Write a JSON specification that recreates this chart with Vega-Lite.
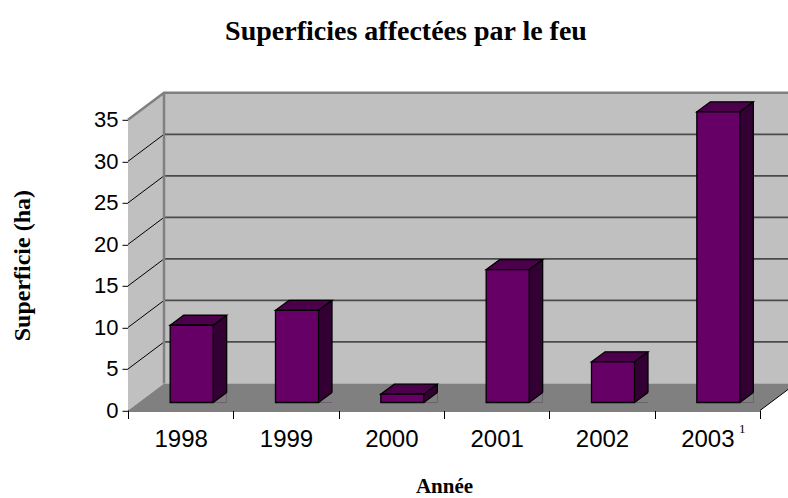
{
  "$schema": "https://vega.github.io/schema/vega-lite/v6.json",
  "width": 632,
  "height": 290.7,
  "autosize": {"type": "none"},
  "padding": {"left": 128, "top": 119.8, "right": 28, "bottom": 87.5},
  "background": "white",
  "title": {
    "text": "Superficies affectées par le feu",
    "font": "Liberation Serif",
    "fontSize": 28,
    "fontWeight": "bold",
    "color": "black",
    "anchor": "middle",
    "frame": "group",
    "baseline": "alphabetic",
    "offset": 20,
    "dx": -38
  },
  "config": {
    "view": {"stroke": null},
    "axisY": {
      "grid": false,
      "labelFont": "Liberation Sans",
      "labelFontSize": 22,
      "labelColor": "black",
      "labelPadding": 4,
      "tickSize": 6,
      "tickColor": "black",
      "domainColor": "black",
      "titleFont": "Liberation Serif",
      "titleFontSize": 24,
      "titleFontWeight": "bold",
      "titleColor": "black",
      "titleX": -106,
      "titleY": 145.35,
      "titleAngle": -90,
      "titleAlign": "center",
      "titleBaseline": "middle",
      "zindex": 1
    },
    "axisX": {
      "grid": false,
      "labelFont": "Liberation Sans",
      "labelFontSize": 24,
      "labelColor": "black",
      "labelAngle": 0,
      "labelPadding": 9,
      "tickSize": 8,
      "tickColor": "black",
      "tickBand": "extent",
      "domainColor": "black",
      "titleFont": "Liberation Serif",
      "titleFontSize": 21,
      "titleFontWeight": "bold",
      "titleColor": "black",
      "titleY": 82,
      "titleBaseline": "alphabetic",
      "zindex": 1
    }
  },
  "datasets": {
    "fires": [
      {"year": "1998", "value": 9.3},
      {"year": "1999", "value": 11.1},
      {"year": "2000", "value": 1.0},
      {"year": "2001", "value": 16.0},
      {"year": "2002", "value": 4.9},
      {"year": "2003", "value": 35.0, "note": "1"}
    ],
    "levels": [
      {"v": 0}, {"v": 5}, {"v": 10}, {"v": 15}, {"v": 20}, {"v": 25}, {"v": 30}, {"v": 35}
    ]
  },
  "data": {"name": "fires"},
  "layer": [
    {
      "transform": [{"filter": "datum.year == '1998'"}],
      "mark": {"type": "point", "shape": "M0,0 L0,-290.7 L36,-317.7 L668,-317.7 L668,-27 L36,-27 Z", "size": 4, "filled": true, "fill": "#C0C0C0", "strokeWidth": 0, "opacity": 1},
      "encoding": {
        "x": {"datum": "1998", "bandPosition": 0, "type": "nominal", "scale": {"type": "band", "domain": ["1998", "1999", "2000", "2001", "2002", "2003"], "paddingInner": 0, "paddingOuter": 0}, "title": "Année"},
        "y": {"datum": 0, "type": "quantitative", "scale": {"domain": [0, 35], "nice": false}, "title": "Superficie (ha)"}
      }
    },
    {
      "transform": [{"filter": "datum.year == '1998'"}],
      "mark": {"type": "point", "shape": "M0,0 L36,-27 L668,-27 L632,0 Z", "size": 4, "filled": true, "fill": "#808080", "strokeWidth": 0, "opacity": 1},
      "encoding": {
        "x": {"datum": "1998", "bandPosition": 0, "type": "nominal", "title": "Année"},
        "y": {"datum": 0, "type": "quantitative", "title": "Superficie (ha)"}
      }
    },
    {
      "transform": [{"filter": "datum.year == '1998'"}],
      "mark": {"type": "point", "shape": "M632,0 L668,-27", "size": 4, "filled": false, "fill": null, "stroke": "black", "strokeWidth": 1, "opacity": 1},
      "encoding": {
        "x": {"datum": "1998", "bandPosition": 0, "type": "nominal", "title": "Année"},
        "y": {"datum": 0, "type": "quantitative", "title": "Superficie (ha)"}
      }
    },
    {
      "data": {"name": "levels"},
      "transform": [{"filter": "datum.v > 0 && datum.v < 35"}],
      "mark": {"type": "point", "shape": "M36,-27 L668,-27", "size": 4, "filled": false, "fill": null, "stroke": "#4a4a4a", "strokeWidth": 1.8, "opacity": 1},
      "encoding": {
        "x": {"datum": "1998", "bandPosition": 0, "type": "nominal", "title": "Année"},
        "y": {"field": "v", "type": "quantitative", "title": "Superficie (ha)"}
      }
    },
    {
      "data": {"name": "levels"},
      "transform": [{"filter": "datum.v > 0 && datum.v < 35"}],
      "mark": {"type": "point", "shape": "M0,0 L36,-27", "size": 4, "filled": false, "fill": null, "stroke": "black", "strokeWidth": 1, "opacity": 1},
      "encoding": {
        "x": {"datum": "1998", "bandPosition": 0, "type": "nominal", "title": "Année"},
        "y": {"field": "v", "type": "quantitative", "title": "Superficie (ha)"}
      }
    },
    {
      "transform": [{"filter": "datum.year == '1998'"}],
      "mark": {"type": "point", "shape": "M0,-290.7 L36,-317.7 L668,-317.7 M36,-317.7 L36,-27", "size": 4, "filled": false, "fill": null, "stroke": "#808080", "strokeWidth": 2.5, "opacity": 1},
      "encoding": {
        "x": {"datum": "1998", "bandPosition": 0, "type": "nominal", "title": "Année"},
        "y": {"datum": 0, "type": "quantitative", "title": "Superficie (ha)"}
      }
    },
    {
      "mark": {"type": "bar", "width": 13.5, "xOffset": 39.25, "yOffset": -18, "y2Offset": -8, "fill": "#330033", "strokeWidth": 0},
      "encoding": {
        "x": {"field": "year", "type": "nominal", "title": "Année"},
        "y": {"field": "value", "type": "quantitative", "title": "Superficie (ha)"},
        "y2": {"datum": 0}
      }
    },
    {
      "mark": {"type": "point", "shape": "M32.5,-8 L46,-8 L46,-18 Z", "size": 4, "filled": true, "fill": "#808080", "strokeWidth": 0, "opacity": 1},
      "encoding": {
        "x": {"field": "year", "type": "nominal", "title": "Année"},
        "y": {"datum": 0, "type": "quantitative", "title": "Superficie (ha)"}
      }
    },
    {
      "mark": {"type": "point", "shape": "M-10.5,-8 L32.5,-8 L46,-18 L3,-18 Z", "size": 4, "filled": true, "fill": "#4C004C", "stroke": "black", "strokeWidth": 1.3, "opacity": 1},
      "encoding": {
        "x": {"field": "year", "type": "nominal", "title": "Année"},
        "y": {"field": "value", "type": "quantitative", "title": "Superficie (ha)"}
      }
    },
    {
      "mark": {"type": "bar", "width": 43, "xOffset": 11, "yOffset": -8, "y2Offset": -8, "fill": "#660066", "stroke": "black", "strokeWidth": 1.3},
      "encoding": {
        "x": {"field": "year", "type": "nominal", "title": "Année"},
        "y": {"field": "value", "type": "quantitative", "title": "Superficie (ha)", "axis": {"values": [0, 5, 10, 15, 20, 25, 30, 35]}},
        "y2": {"datum": 0}
      }
    },
    {
      "mark": {"type": "point", "shape": "M32.5,-8 L46,-18", "size": 4, "filled": false, "fill": null, "stroke": "black", "strokeWidth": 1.3, "opacity": 1},
      "encoding": {
        "x": {"field": "year", "type": "nominal", "title": "Année"},
        "y": {"datum": 0, "type": "quantitative", "title": "Superficie (ha)"}
      }
    },
    {
      "mark": {"type": "rule", "xOffset": 46, "yOffset": -18, "y2Offset": -18, "stroke": "black", "strokeWidth": 1.3},
      "encoding": {
        "x": {"field": "year", "type": "nominal", "title": "Année"},
        "y": {"field": "value", "type": "quantitative", "title": "Superficie (ha)"},
        "y2": {"datum": 0}
      }
    },
    {
      "transform": [{"filter": "datum.note"}],
      "mark": {"type": "text", "font": "Liberation Serif", "fontSize": 13, "dx": 35, "dy": 18.5, "baseline": "middle", "color": "black"},
      "encoding": {
        "x": {"field": "year", "type": "nominal", "title": "Année"},
        "y": {"datum": 0, "type": "quantitative", "title": "Superficie (ha)"},
        "text": {"field": "note"}
      }
    }
  ]
}
